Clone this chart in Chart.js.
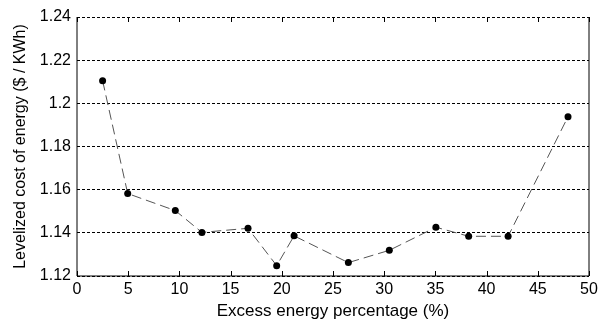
<!DOCTYPE html>
<html>
<head>
<meta charset="utf-8">
<script src="https://cdn.jsdelivr.net/npm/chart.js@4"></script>
<style>
  html, body { margin: 0; padding: 0; background: #fff; }
  #wrap { width: 607px; height: 325px; }
</style>
</head>
<body>
<div id="wrap"><canvas id="myChart" width="607" height="325"></canvas></div>
<script>
// values
const excessEnergy = [2.5, 4.95, 9.6, 12.2, 16.7, 19.5, 21.2, 26.5, 30.5, 35.05, 38.25, 42.1, 47.95];
const levelizedCost = [1.2105, 1.1582, 1.1503, 1.1402, 1.1421, 1.1248, 1.1386, 1.1262, 1.1319, 1.1426, 1.1384, 1.1384, 1.1938];
const xTicks = [0, 5, 10, 15, 20, 25, 30, 35, 40, 45, 50];
const yTicks = [1.12, 1.14, 1.16, 1.18, 1.2, 1.22, 1.24];

const tickFont = { family: 'Liberation Sans, Arial, sans-serif', size: 16 };
const titleFont = { family: 'Liberation Sans, Arial, sans-serif', size: 16 };

// box around the plot and small inward tick marks, like matlab
const boxPlugin = {
    id: 'box',
    afterDraw(chart) {
        const { ctx, chartArea: a, scales } = chart;
        ctx.save();
        ctx.strokeStyle = '#000';
        ctx.lineWidth = 1;
        ctx.beginPath();
        ctx.moveTo(a.left, a.top);
        ctx.lineTo(a.left, a.bottom);
        ctx.lineTo(a.right, a.bottom);
        ctx.lineTo(a.right, a.top);
        ctx.stroke();
        xTicks.forEach(function (v) {
            const px = Math.round(scales.x.getPixelForValue(v)) + 0.5;
            ctx.beginPath();
            ctx.moveTo(px, a.bottom);
            ctx.lineTo(px, a.bottom - 5);
            ctx.moveTo(px, a.top);
            ctx.lineTo(px, a.top + 5);
            ctx.stroke();
        });
        ctx.restore();
    }
};

const ctx = document.getElementById('myChart').getContext('2d');
new Chart(ctx, {
    type: 'scatter',
    data: {
        datasets: [{
            data: excessEnergy.map(function (x, i) { return { x: x, y: levelizedCost[i] }; }),
            showLine: true,
            borderColor: '#555',
            borderWidth: 1,
            borderDash: [10, 5],
            pointRadius: 3.5,
            pointBackgroundColor: '#000',
            pointBorderColor: '#000',
            pointBorderWidth: 0
        }]
    },
    options: {
        responsive: false,
        animation: false,
        layout: { padding: { left: 0, right: 18, top: 17, bottom: 0 } },
        plugins: { legend: { display: false }, tooltip: { enabled: false } },
        scales: {
            x: {
                type: 'linear',
                min: 0,
                max: 50,
                afterBuildTicks: function (scale) { scale.ticks = xTicks.map(function (v) { return { value: v }; }); },
                afterFit: function (scale) { scale.height = 49; },
                grid: { display: false, drawTicks: false },
                border: { display: false },
                ticks: { color: '#000', font: tickFont, padding: 4, maxRotation: 0 },
                title: { display: true, text: 'Excess energy percentage (%)', color: '#000', font: { family: titleFont.family, size: 17 }, padding: { top: 0, bottom: 3 } }
            },
            y: {
                type: 'linear',
                min: 1.12,
                max: 1.24,
                afterBuildTicks: function (scale) { scale.ticks = yTicks.map(function (v) { return { value: v }; }); },
                afterFit: function (scale) { scale.width = 77; },
                grid: { color: '#000', lineWidth: 1, drawTicks: false },
                border: { display: false, dash: [3, 2] },
                ticks: {
                    color: '#000', font: tickFont, padding: 6,
                    callback: function (v) { return String(parseFloat(v.toFixed(2))); }
                },
                title: { display: true, text: 'Levelized cost of energy ($ / KWh)', color: '#000', font: titleFont, padding: { top: 11, bottom: 0 } }
            }
        }
    },
    plugins: [boxPlugin]
});
</script>
</body>
</html>
